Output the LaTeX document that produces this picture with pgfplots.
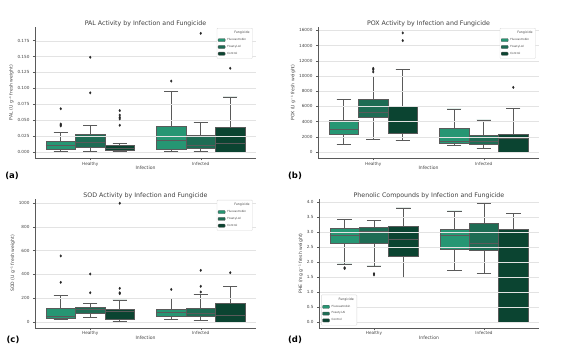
\documentclass[border=0pt]{standalone}
\usepackage{pgfplots}
\pgfplotsset{compat=1.18}
\usepackage{fontspec}
\setmainfont{DejaVu Sans}
\usepgfplotslibrary{statistics}
\definecolor{cA}{RGB}{38,150,115}
\definecolor{cB}{RGB}{30,108,84}
\definecolor{cC}{RGB}{11,68,49}
\definecolor{txt}{RGB}{68,68,68}
\definecolor{edge}{RGB}{90,90,90}

\newcommand{\bx}[8]{%
\addplot[forget plot, boxplot prepared={draw position=#1, lower whisker=#3, lower quartile=#4, median=#5, upper quartile=#6, upper whisker=#7, box extend=0.267, whisker extend=0.13},
  fill=#2, draw=edge, line width=0.55pt, solid, mark=diamond*, mark size=1.3pt, mark options={fill=black!85, draw=black!85, line width=0.2pt}] coordinates {#8};}

\pgfplotsset{myax/.style={
  scale only axis, anchor=south west, axis on top,
  boxplot/draw direction=y,
  xmin=-0.5, xmax=1.5,
  axis lines*=left,
  axis line style={edge, line width=0.5pt},
  xtick={0,1}, xticklabels={Healthy,Infected},
  tick align=outside, major tick length=2bp,
  tick style={edge, line width=0.4pt},
  ymajorgrids, grid style={gray!22, line width=0.35pt},
  ticklabel style={font=\fontsize{4.2}{5}\selectfont, text=txt},
  xticklabel style={yshift=2pt},
  /pgf/number format/assume math mode=true,
  /pgf/number format/1000 sep={},
  label style={font=\fontsize{4.6}{5.5}\selectfont, text=txt},
  xlabel={Infection},
  xlabel style={yshift=6.5pt},
  ylabel style={yshift=-3pt},
  title style={font=\fontsize{6.3}{7}\selectfont, text=black!75, yshift=-9.5pt},
  legend cell align=left,
  legend style={font=\fontsize{2.8}{3.2}\selectfont, text=txt, draw=gray!30, fill=white, inner sep=1pt, row sep=-0.8pt, rounded corners=0.8pt},
  legend image code/.code={\draw[##1] (0bp,-1.6bp) rectangle (7bp,1.6bp);},
}}

\newcommand{\leg}{%
\addlegendimage{empty legend}\addlegendentry{\hspace*{7pt}\fontsize{3.2}{3.6}\selectfont Fungicide}
\addlegendimage{fill=cA, draw=edge, line width=0.3pt}\addlegendentry{Fluoxastrobin}
\addlegendimage{fill=cB, draw=edge, line width=0.3pt}\addlegendentry{Fosetyl-Al}
\addlegendimage{fill=cC, draw=edge, line width=0.3pt}\addlegendentry{Control}}

\begin{document}
\begin{tikzpicture}
\path[use as bounding box] (0,0) rectangle (567bp,-354bp);

% (a) PAL
\begin{axis}[myax, at={(35bp,-158.3bp)}, width=221bp, height=131.6bp,
  ymin=-0.01, ymax=0.197,
  ytick={0,0.025,0.05,0.075,0.1,0.125,0.15,0.175},
  yticklabel style={/pgf/number format/fixed, /pgf/number format/precision=3, /pgf/number format/fixed zerofill},
  scaled y ticks=false,
  ylabel={PAL (U g⁻¹ fresh weight)},
  title={PAL Activity by Infection and Fungicide},
  legend style={at={(0.985,0.99)}, anchor=north east}]
\bx{-0.267}{cA}{0.001}{0.004}{0.010}{0.016}{0.031}{(0,0.068) (0,0.044) (0,0.0425) (0,0.041)}
\bx{0}{cB}{0.001}{0.008}{0.015}{0.028}{0.042}{(0,0.149) (0,0.093)}
\bx{0.267}{cC}{0.001}{0.003}{0.006}{0.010}{0.013}{(0,0.065) (0,0.058) (0,0.0545) (0,0.052) (0,0.042)}
\bx{0.733}{cA}{0.001}{0.004}{0.019}{0.0405}{0.095}{(0,0.1115)}
\bx{1}{cB}{0.001}{0.006}{0.0105}{0.0257}{0.0466}{(0,0.1866)}
\bx{1.267}{cC}{0.0}{0.0}{0.0136}{0.0388}{0.0865}{(0,0.1316)}
\leg
\end{axis}

% (b) POX, values in thousands
\begin{axis}[myax, at={(318bp,-158.3bp)}, width=221bp, height=131.6bp,
  ymin=-0.83, ymax=16.48,
  ytick={0,2,4,6,8,10,12,14,16},
  yticklabels={0,2000,4000,6000,8000,10000,12000,14000,16000},
  ylabel={POX (U g⁻¹ fresh weight)},
  title={POX Activity by Infection and Fungicide},
  legend style={at={(0.985,0.99)}, anchor=north east}]
\bx{-0.267}{cA}{1.010}{2.280}{3.030}{4.210}{6.930}{}
\bx{0}{cB}{1.670}{4.600}{5.220}{6.890}{9.910}{(0,11.000) (0,10.830) (0,10.530)}
\bx{0.267}{cC}{1.540}{2.500}{3.990}{6.050}{10.880}{(0,15.660) (0,14.650)}
\bx{0.733}{cA}{0.830}{1.100}{1.400}{3.070}{5.660}{}
\bx{1}{cB}{0.480}{0.960}{1.450}{2.190}{4.210}{}
\bx{1.267}{cC}{0}{0}{1.750}{2.320}{5.700}{(0,8.500)}
\leg
\end{axis}

% (c) SOD, values in hundreds
\begin{axis}[myax, at={(35bp,-328bp)}, width=221bp, height=129.3bp,
  ymin=-0.5, ymax=10.35,
  ytick={0,2,4,6,8,10},
  yticklabels={0,200,400,600,800,1000},
  ylabel={SOD (U g⁻¹ fresh weight)},
  title={SOD Activity by Infection and Fungicide},
  legend style={at={(0.985,0.99)}, anchor=north east}]
\bx{-0.267}{cA}{0.25}{0.34}{0.50}{1.12}{2.24}{(0,5.55) (0,3.33)}
\bx{0}{cB}{0.36}{0.76}{1.04}{1.23}{1.57}{(0,4.03) (0,2.46)}
\bx{0.267}{cC}{0.08}{0.25}{0.87}{1.04}{1.85}{(0,9.97) (0,2.83) (0,2.46) (0,2.38)}
\bx{0.733}{cA}{0.20}{0.45}{0.78}{1.09}{1.96}{(0,2.74)}
\bx{1}{cB}{0.17}{0.48}{0.70}{1.15}{2.30}{(0,4.34) (0,3.00) (0,2.52)}
\bx{1.267}{cC}{0}{0}{0.60}{1.54}{3.02}{(0,4.14)}
\leg
\end{axis}

% (d) Phenolic
\begin{axis}[myax, at={(319bp,-328bp)}, width=220bp, height=129.3bp,
  ymin=-0.2, ymax=4.11,
  ytick={0,0.5,1,1.5,2,2.5,3,3.5,4},
  yticklabel style={/pgf/number format/fixed, /pgf/number format/precision=1, /pgf/number format/fixed zerofill},
  ylabel={PHE (mg g⁻¹ fresh weight)},
  title={Phenolic Compounds by Infection and Fungicide},
  legend style={at={(0.01,0.02)}, anchor=south west}]
\bx{-0.267}{cA}{1.94}{2.63}{2.90}{3.11}{3.42}{(0,1.81) (0,1.78)}
\bx{0}{cB}{1.87}{2.61}{3.01}{3.16}{3.38}{(0,1.61) (0,1.57)}
\bx{0.267}{cC}{1.50}{2.18}{2.77}{3.19}{3.80}{}
\bx{0.733}{cA}{1.71}{2.42}{2.90}{3.10}{3.70}{}
\bx{1}{cB}{1.61}{2.38}{2.64}{3.29}{3.97}{}
\bx{1.267}{cC}{0}{0}{2.5}{3.10}{3.61}{}
\leg
\end{axis}

\node[font=\bfseries\fontsize{8.5}{9}\selectfont] at (12bp,-176bp) {(a)};
\node[font=\bfseries\fontsize{8.5}{9}\selectfont] at (295bp,-176bp) {(b)};
\node[font=\bfseries\fontsize{8.5}{9}\selectfont] at (13bp,-340bp) {(c)};
\node[font=\bfseries\fontsize{8.5}{9}\selectfont] at (295bp,-340bp) {(d)};
\end{tikzpicture}
\end{document}
